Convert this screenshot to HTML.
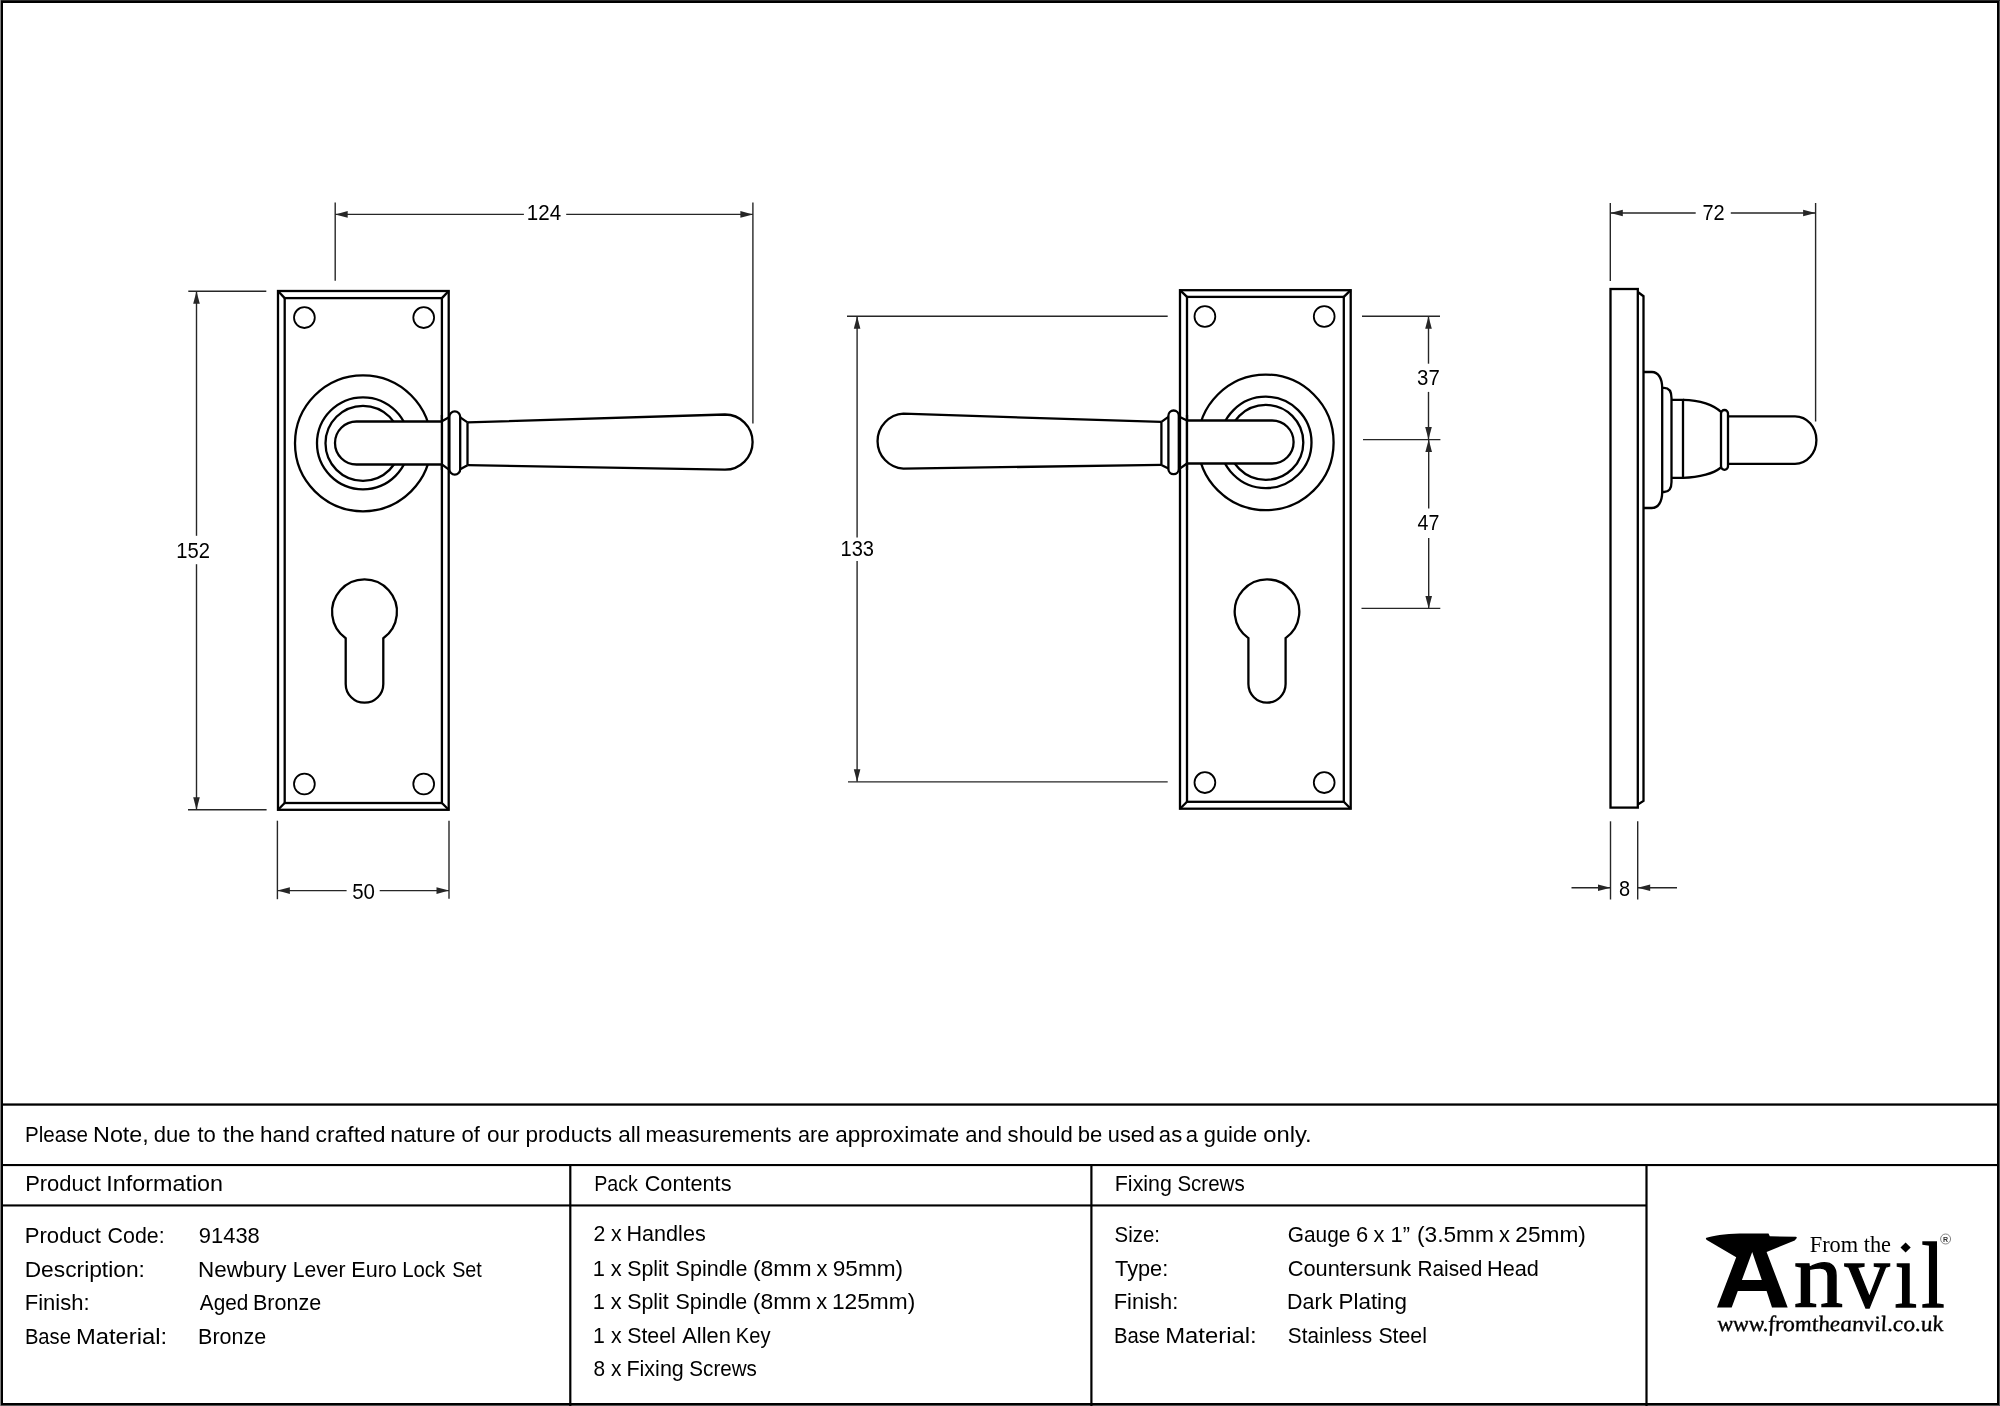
<!DOCTYPE html>
<html><head><meta charset="utf-8"><title>Newbury Lever Euro Lock Set</title><style>html,body{margin:0;padding:0;background:#fff;width:2000px;height:1406px;overflow:hidden}body{position:relative}</style></head><body>
<svg width="2000" height="1406" viewBox="0 0 2000 1406" style="position:absolute;left:0;top:0;will-change:transform">
<rect x="0" y="0" width="2000" height="1406" fill="#555"/>
<rect x="0" y="0" width="2000" height="1" fill="#2b2b2b"/>
<rect x="0" y="0" width="1" height="1406" fill="#808080"/>
<rect x="1" y="1" width="1998" height="1404" fill="#000"/>
<rect x="3" y="3" width="1994" height="1400" fill="#fff"/>
<rect x="3" y="1103.4" width="1994" height="2.3" fill="#000"/>
<rect x="3" y="1164" width="1994" height="2.1" fill="#000"/>
<rect x="3" y="1204.4" width="1643.4" height="2.1" fill="#000"/>
<rect x="569.2" y="1164" width="2.2" height="1239" fill="#000"/>
<rect x="1090.3" y="1164" width="2.2" height="1239" fill="#000"/>
<rect x="1645.4" y="1164" width="2.2" height="1239" fill="#000"/>
<rect x="278" y="291" width="170.70" height="518.80" fill="none" stroke="#000" stroke-width="2.3"/>
<rect x="284.7" y="298.1" width="157.20" height="504.90" fill="none" stroke="#000" stroke-width="2.3"/>
<line x1="278" y1="291" x2="284.7" y2="298.1" stroke="#000" stroke-width="2.3"/>
<line x1="448.7" y1="291" x2="441.9" y2="298.1" stroke="#000" stroke-width="2.3"/>
<line x1="278" y1="809.8" x2="284.7" y2="803" stroke="#000" stroke-width="2.3"/>
<line x1="448.7" y1="809.8" x2="441.9" y2="803" stroke="#000" stroke-width="2.3"/>
<circle cx="304.4" cy="317.6" r="10.4" fill="none" stroke="#000" stroke-width="1.8"/>
<circle cx="423.7" cy="317.6" r="10.4" fill="none" stroke="#000" stroke-width="1.8"/>
<circle cx="304.4" cy="784" r="10.4" fill="none" stroke="#000" stroke-width="1.8"/>
<circle cx="423.7" cy="784" r="10.4" fill="none" stroke="#000" stroke-width="1.8"/>
<circle cx="363" cy="443.3" r="68" fill="none" stroke="#000" stroke-width="2.3"/>
<circle cx="363" cy="443.3" r="46" fill="none" stroke="#000" stroke-width="2.3"/>
<circle cx="363" cy="443.3" r="37.5" fill="none" stroke="#000" stroke-width="2.3"/>
<path d="M345.70,638.30 A32.45,32.45 0 1 1 383.30,638.30 L383.30,683.90 A18.8,18.8 0 0 1 345.70,683.90 Z" fill="none" stroke="#000" stroke-width="2.3"/>
<path d="M441.9,421.5 L356.5,421.5 A21.5,21.5 0 0 0 356.5,464.5 L441.9,464.5" fill="#fff" stroke="#000" stroke-width="2.3"/>
<line x1="441.9" y1="415" x2="441.9" y2="470" stroke="#000" stroke-width="2.3"/>
<path d="M441.9,421.3 L448.6,417.4 M441.9,464.3 L448.6,469.3 M460.2,417.4 L467.5,422.4 M460.2,469.3 L467.5,465.2 M467.5,422.4 L467.5,465.2" fill="none" stroke="#000" stroke-width="2.3"/>
<rect x="449.4" y="411.4" width="10.8" height="63.2" rx="5.4" ry="5.4" fill="#fff" stroke="#000" stroke-width="2.3"/>
<path d="M467.5,422.4 L725,414.5 A27.6,27.6 0 0 1 725,469.7 L467.5,465.2" fill="none" stroke="#000" stroke-width="2.3"/>
<line x1="335.2" y1="202.4" x2="335.2" y2="280.8" stroke="#262626" stroke-width="1.4"/>
<line x1="752.9" y1="202.4" x2="752.9" y2="423.4" stroke="#262626" stroke-width="1.4"/>
<line x1="335.2" y1="214.4" x2="523.9" y2="214.4" stroke="#262626" stroke-width="1.4"/>
<line x1="566.2" y1="214.4" x2="752.9" y2="214.4" stroke="#262626" stroke-width="1.4"/>
<polygon points="335.20,214.40 347.70,211.10 347.70,217.70" fill="#262626"/>
<polygon points="752.90,214.40 740.40,217.70 740.40,211.10" fill="#262626"/>
<text transform="translate(526.86,219.50) scale(0.9269,1.0)" font-family='"Liberation Sans", sans-serif' font-size="22.2" fill="#000">124</text>
<line x1="188.3" y1="291.3" x2="266.3" y2="291.3" stroke="#262626" stroke-width="1.4"/>
<line x1="188.0" y1="809.8" x2="266.6" y2="809.8" stroke="#262626" stroke-width="1.4"/>
<line x1="196.5" y1="291.3" x2="196.5" y2="535.8" stroke="#262626" stroke-width="1.4"/>
<line x1="196.5" y1="564.2" x2="196.5" y2="809.8" stroke="#262626" stroke-width="1.4"/>
<polygon points="196.50,291.30 199.80,303.80 193.20,303.80" fill="#262626"/>
<polygon points="196.50,809.80 193.20,797.30 199.80,797.30" fill="#262626"/>
<text transform="translate(176.19,557.60) scale(0.9097,1.0)" font-family='"Liberation Sans", sans-serif' font-size="22.2" fill="#000">152</text>
<line x1="277.4" y1="820.7" x2="277.4" y2="899.2" stroke="#262626" stroke-width="1.4"/>
<line x1="449.0" y1="820.7" x2="449.0" y2="898.7" stroke="#262626" stroke-width="1.4"/>
<line x1="277.4" y1="890.6" x2="346.6" y2="890.6" stroke="#262626" stroke-width="1.4"/>
<line x1="379.7" y1="890.6" x2="449.0" y2="890.6" stroke="#262626" stroke-width="1.4"/>
<polygon points="277.40,890.60 289.90,887.30 289.90,893.90" fill="#262626"/>
<polygon points="449.00,890.60 436.50,893.90 436.50,887.30" fill="#262626"/>
<text transform="translate(352.18,898.70) scale(0.9227,1.0)" font-family='"Liberation Sans", sans-serif' font-size="22.2" fill="#000">50</text>
<rect x="1180" y="290.2" width="170.70" height="518.50" fill="none" stroke="#000" stroke-width="2.3"/>
<rect x="1187" y="296.9" width="156.80" height="504.90" fill="none" stroke="#000" stroke-width="2.3"/>
<line x1="1180" y1="290.2" x2="1187" y2="296.9" stroke="#000" stroke-width="2.3"/>
<line x1="1350.7" y1="290.2" x2="1343.8" y2="296.9" stroke="#000" stroke-width="2.3"/>
<line x1="1180" y1="808.7" x2="1187" y2="801.8" stroke="#000" stroke-width="2.3"/>
<line x1="1350.7" y1="808.7" x2="1343.8" y2="801.8" stroke="#000" stroke-width="2.3"/>
<circle cx="1204.9" cy="316.5" r="10.4" fill="none" stroke="#000" stroke-width="1.8"/>
<circle cx="1324.2" cy="316.5" r="10.4" fill="none" stroke="#000" stroke-width="1.8"/>
<circle cx="1204.9" cy="782.6" r="10.4" fill="none" stroke="#000" stroke-width="1.8"/>
<circle cx="1324.2" cy="782.6" r="10.4" fill="none" stroke="#000" stroke-width="1.8"/>
<circle cx="1265.8" cy="442.4" r="67.8" fill="none" stroke="#000" stroke-width="2.3"/>
<circle cx="1265.8" cy="442.4" r="45.7" fill="none" stroke="#000" stroke-width="2.3"/>
<circle cx="1265.8" cy="442.4" r="37.5" fill="none" stroke="#000" stroke-width="2.3"/>
<path d="M1248.40,638.11 A32.3,32.3 0 1 1 1285.60,638.11 L1285.60,684.10 A18.6,18.6 0 0 1 1248.40,684.10 Z" fill="none" stroke="#000" stroke-width="2.3"/>
<path d="M1187,420.5 L1272.1,420.5 A21.5,21.5 0 0 1 1272.1,463.5 L1187,463.5" fill="#fff" stroke="#000" stroke-width="2.3"/>
<line x1="1187" y1="415" x2="1187" y2="470" stroke="#000" stroke-width="2.3"/>
<path d="M1187,420.6 L1179.8,416.9 M1187,463.5 L1179.8,468.6 M1168.4,416.9 L1161.4,421.9 M1168.4,468.6 L1161.4,464.9 M1161.4,421.9 L1161.4,464.9" fill="none" stroke="#000" stroke-width="2.3"/>
<rect x="1168.4" y="410.5" width="10.4" height="63.7" rx="5.2" ry="5.2" fill="#fff" stroke="#000" stroke-width="2.3"/>
<path d="M1161.4,421.9 L903.4,413.7 A27.5,27.5 0 0 0 903.4,468.6 L1161.4,464.9" fill="none" stroke="#000" stroke-width="2.3"/>
<line x1="847" y1="316.3" x2="1167.7" y2="316.3" stroke="#262626" stroke-width="1.4"/>
<line x1="848" y1="781.85" x2="1167.7" y2="781.85" stroke="#262626" stroke-width="1.4"/>
<line x1="857.1" y1="316.3" x2="857.1" y2="537.5" stroke="#262626" stroke-width="1.4"/>
<line x1="857.1" y1="561" x2="857.1" y2="781.85" stroke="#262626" stroke-width="1.4"/>
<polygon points="857.10,316.30 860.40,328.80 853.80,328.80" fill="#262626"/>
<polygon points="857.10,781.85 853.80,769.35 860.40,769.35" fill="#262626"/>
<text transform="translate(840.50,556.30) scale(0.9038,1.0)" font-family='"Liberation Sans", sans-serif' font-size="22.2" fill="#000">133</text>
<line x1="1362" y1="316.3" x2="1440" y2="316.3" stroke="#262626" stroke-width="1.4"/>
<line x1="1363" y1="439.6" x2="1440.4" y2="439.6" stroke="#262626" stroke-width="1.4"/>
<line x1="1361.5" y1="608.4" x2="1440.3" y2="608.4" stroke="#262626" stroke-width="1.4"/>
<line x1="1428.5" y1="316.3" x2="1428.5" y2="363.7" stroke="#262626" stroke-width="1.4"/>
<line x1="1428.5" y1="391.9" x2="1428.5" y2="439.6" stroke="#262626" stroke-width="1.4"/>
<polygon points="1428.50,316.30 1431.80,328.80 1425.20,328.80" fill="#262626"/>
<polygon points="1428.50,439.60 1425.20,427.10 1431.80,427.10" fill="#262626"/>
<line x1="1428.7" y1="439.6" x2="1428.7" y2="508.5" stroke="#262626" stroke-width="1.4"/>
<line x1="1428.7" y1="538" x2="1428.7" y2="608.4" stroke="#262626" stroke-width="1.4"/>
<polygon points="1428.70,439.60 1432.00,452.10 1425.40,452.10" fill="#262626"/>
<polygon points="1428.70,608.40 1425.40,595.90 1432.00,595.90" fill="#262626"/>
<text transform="translate(1417.08,384.80) scale(0.9186,1.0)" font-family='"Liberation Sans", sans-serif' font-size="22.2" fill="#000">37</text>
<text transform="translate(1417.51,530.30) scale(0.8836,1.0)" font-family='"Liberation Sans", sans-serif' font-size="22.2" fill="#000">47</text>
<rect x="1610.5" y="289" width="27.3" height="518.6" fill="none" stroke="#000" stroke-width="2.3"/>
<path d="M1637.8,292 L1643.5,296.2 L1643.5,800.9 L1637.8,804.5" fill="none" stroke="#000" stroke-width="2.3"/>
<path d="M1644,372 H1652 C1658,372 1662.2,378 1662.2,388 V492 C1662.2,502 1658,508 1652,508 H1644" fill="none" stroke="#000" stroke-width="2.3"/>
<path d="M1662.2,387.9 H1664 C1668.5,387.9 1671.5,391 1671.5,398 V482 C1671.5,489 1668.5,492 1664,492 H1662.2" fill="none" stroke="#000" stroke-width="2.3"/>
<path d="M1671.5,399.8 H1683 V477.8 H1671.5" fill="none" stroke="#000" stroke-width="2.3"/>
<path d="M1683,399.8 C1700,400 1714,405 1721,412 M1683,477.8 C1700,477.8 1714,473 1721,467.5" fill="none" stroke="#000" stroke-width="2.3"/>
<rect x="1721" y="410" width="7" height="59.8" rx="3.5" ry="3.5" fill="#fff" stroke="#000" stroke-width="2.3"/>
<path d="M1728,416.3 H1795 C1807,416.3 1816.4,427 1816.4,440 C1816.4,453 1807,463.8 1795,463.8 H1728" fill="none" stroke="#000" stroke-width="2.3"/>
<line x1="1610.3" y1="203" x2="1610.3" y2="281" stroke="#262626" stroke-width="1.4"/>
<line x1="1815.6" y1="203" x2="1815.6" y2="421.5" stroke="#262626" stroke-width="1.4"/>
<line x1="1610.3" y1="213" x2="1695.7" y2="213" stroke="#262626" stroke-width="1.4"/>
<line x1="1730.8" y1="213" x2="1815.6" y2="213" stroke="#262626" stroke-width="1.4"/>
<polygon points="1610.30,213.00 1622.80,209.70 1622.80,216.30" fill="#262626"/>
<polygon points="1815.60,213.00 1803.10,216.30 1803.10,209.70" fill="#262626"/>
<text transform="translate(1702.50,219.90) scale(0.9009,1.0)" font-family='"Liberation Sans", sans-serif' font-size="22.2" fill="#000">72</text>
<line x1="1610.5" y1="821.3" x2="1610.5" y2="899.5" stroke="#262626" stroke-width="1.4"/>
<line x1="1637.7" y1="821.3" x2="1637.7" y2="899.5" stroke="#262626" stroke-width="1.4"/>
<line x1="1571.5" y1="887.7" x2="1610.5" y2="887.7" stroke="#262626" stroke-width="1.4"/>
<line x1="1637.7" y1="887.7" x2="1677" y2="887.7" stroke="#262626" stroke-width="1.4"/>
<polygon points="1610.50,887.70 1598.00,891.00 1598.00,884.40" fill="#262626"/>
<polygon points="1637.70,887.70 1650.20,884.40 1650.20,891.00" fill="#262626"/>
<text transform="translate(1618.90,895.50) scale(0.9009,1.0)" font-family='"Liberation Sans", sans-serif' font-size="22.2" fill="#000">8</text>
<text transform="translate(25.05,1142.20) scale(0.9200,1.0)" font-family='"Liberation Sans", sans-serif' font-size="22.4" fill="#000">Please</text>
<text transform="translate(93.06,1142.20) scale(1.0419,1.0)" font-family='"Liberation Sans", sans-serif' font-size="22.4" fill="#000">Note,</text>
<text transform="translate(153.69,1142.20) scale(0.9839,1.0)" font-family='"Liberation Sans", sans-serif' font-size="22.4" fill="#000">due</text>
<text transform="translate(197.46,1142.20) scale(0.9862,1.0)" font-family='"Liberation Sans", sans-serif' font-size="22.4" fill="#000">to</text>
<text transform="translate(223.07,1142.20) scale(1.0152,1.0)" font-family='"Liberation Sans", sans-serif' font-size="22.4" fill="#000">the</text>
<text transform="translate(259.92,1142.20) scale(1.0041,1.0)" font-family='"Liberation Sans", sans-serif' font-size="22.4" fill="#000">hand</text>
<text transform="translate(315.43,1142.20) scale(1.0238,1.0)" font-family='"Liberation Sans", sans-serif' font-size="22.4" fill="#000">crafted</text>
<text transform="translate(390.34,1142.20) scale(1.0285,1.0)" font-family='"Liberation Sans", sans-serif' font-size="22.4" fill="#000">nature</text>
<text transform="translate(461.59,1142.20) scale(0.9862,1.0)" font-family='"Liberation Sans", sans-serif' font-size="22.4" fill="#000">of</text>
<text transform="translate(487.00,1142.20) scale(1.0086,1.0)" font-family='"Liberation Sans", sans-serif' font-size="22.4" fill="#000">our</text>
<text transform="translate(525.57,1142.20) scale(1.0062,1.0)" font-family='"Liberation Sans", sans-serif' font-size="22.4" fill="#000">products</text>
<text transform="translate(618.15,1142.20) scale(1.0050,1.0)" font-family='"Liberation Sans", sans-serif' font-size="22.4" fill="#000">all</text>
<text transform="translate(645.61,1142.20) scale(0.9862,1.0)" font-family='"Liberation Sans", sans-serif' font-size="22.4" fill="#000">measurements</text>
<text transform="translate(797.94,1142.20) scale(0.9670,1.0)" font-family='"Liberation Sans", sans-serif' font-size="22.4" fill="#000">are</text>
<text transform="translate(835.21,1142.20) scale(1.0067,1.0)" font-family='"Liberation Sans", sans-serif' font-size="22.4" fill="#000">approximate</text>
<text transform="translate(965.18,1142.20) scale(0.9838,1.0)" font-family='"Liberation Sans", sans-serif' font-size="22.4" fill="#000">and</text>
<text transform="translate(1007.61,1142.20) scale(0.9883,1.0)" font-family='"Liberation Sans", sans-serif' font-size="22.4" fill="#000">should</text>
<text transform="translate(1077.83,1142.20) scale(0.9862,1.0)" font-family='"Liberation Sans", sans-serif' font-size="22.4" fill="#000">be</text>
<text transform="translate(1107.83,1142.20) scale(0.9702,1.0)" font-family='"Liberation Sans", sans-serif' font-size="22.4" fill="#000">used</text>
<text transform="translate(1158.86,1142.20) scale(0.9862,1.0)" font-family='"Liberation Sans", sans-serif' font-size="22.4" fill="#000">as</text>
<text transform="translate(1185.65,1142.20) scale(0.9862,1.0)" font-family='"Liberation Sans", sans-serif' font-size="22.4" fill="#000">a</text>
<text transform="translate(1203.75,1142.20) scale(0.9772,1.0)" font-family='"Liberation Sans", sans-serif' font-size="22.4" fill="#000">guide</text>
<text transform="translate(1263.17,1142.20) scale(1.0634,1.0)" font-family='"Liberation Sans", sans-serif' font-size="22.4" fill="#000">only.</text>
<text transform="translate(25.14,1191.10) scale(0.9806,1.0)" font-family='"Liberation Sans", sans-serif' font-size="22.4" fill="#000">Product</text>
<text transform="translate(106.37,1191.10) scale(1.0424,1.0)" font-family='"Liberation Sans", sans-serif' font-size="22.4" fill="#000">Information</text>
<text transform="translate(594.17,1190.90) scale(0.8791,1.0)" font-family='"Liberation Sans", sans-serif' font-size="22.4" fill="#000">Pack</text>
<text transform="translate(644.67,1190.90) scale(0.9685,1.0)" font-family='"Liberation Sans", sans-serif' font-size="22.4" fill="#000">Contents</text>
<text transform="translate(1114.79,1190.50) scale(0.9564,1.0)" font-family='"Liberation Sans", sans-serif' font-size="22.4" fill="#000">Fixing</text>
<text transform="translate(1177.40,1190.50) scale(0.9163,1.0)" font-family='"Liberation Sans", sans-serif' font-size="22.4" fill="#000">Screws</text>
<text transform="translate(24.73,1242.50) scale(0.9876,1.0)" font-family='"Liberation Sans", sans-serif' font-size="22.4" fill="#000">Product</text>
<text transform="translate(107.58,1242.50) scale(0.9539,1.0)" font-family='"Liberation Sans", sans-serif' font-size="22.4" fill="#000">Code:</text>
<text transform="translate(24.68,1276.80) scale(1.0170,1.0)" font-family='"Liberation Sans", sans-serif' font-size="22.4" fill="#000">Description:</text>
<text transform="translate(24.74,1310.40) scale(0.9829,1.0)" font-family='"Liberation Sans", sans-serif' font-size="22.4" fill="#000">Finish:</text>
<text transform="translate(24.88,1343.90) scale(0.9013,1.0)" font-family='"Liberation Sans", sans-serif' font-size="22.4" fill="#000">Base</text>
<text transform="translate(75.94,1343.90) scale(1.0607,1.0)" font-family='"Liberation Sans", sans-serif' font-size="22.4" fill="#000">Material:</text>
<text transform="translate(198.81,1242.50) scale(0.9790,1.0)" font-family='"Liberation Sans", sans-serif' font-size="22.4" fill="#000">91438</text>
<text transform="translate(198.01,1276.80) scale(1.0015,1.0)" font-family='"Liberation Sans", sans-serif' font-size="22.4" fill="#000">Newbury</text>
<text transform="translate(292.65,1276.80) scale(0.9433,1.0)" font-family='"Liberation Sans", sans-serif' font-size="22.4" fill="#000">Lever</text>
<text transform="translate(351.26,1276.80) scale(0.9643,1.0)" font-family='"Liberation Sans", sans-serif' font-size="22.4" fill="#000">Euro</text>
<text transform="translate(402.17,1276.80) scale(0.9112,1.0)" font-family='"Liberation Sans", sans-serif' font-size="22.4" fill="#000">Lock</text>
<text transform="translate(452.18,1276.80) scale(0.8815,1.0)" font-family='"Liberation Sans", sans-serif' font-size="22.4" fill="#000">Set</text>
<text transform="translate(199.80,1310.40) scale(0.9273,1.0)" font-family='"Liberation Sans", sans-serif' font-size="22.4" fill="#000">Aged</text>
<text transform="translate(253.02,1310.40) scale(0.9612,1.0)" font-family='"Liberation Sans", sans-serif' font-size="22.4" fill="#000">Bronze</text>
<text transform="translate(198.08,1343.90) scale(0.9604,1.0)" font-family='"Liberation Sans", sans-serif' font-size="22.4" fill="#000">Bronze</text>
<text transform="translate(593.44,1241.30) scale(0.9496,1.0)" font-family='"Liberation Sans", sans-serif' font-size="22.4" fill="#000">2</text>
<text transform="translate(610.96,1241.30) scale(0.9496,1.0)" font-family='"Liberation Sans", sans-serif' font-size="22.4" fill="#000">x</text>
<text transform="translate(626.48,1241.30) scale(0.9643,1.0)" font-family='"Liberation Sans", sans-serif' font-size="22.4" fill="#000">Handles</text>
<text transform="translate(592.86,1275.50) scale(0.9775,1.0)" font-family='"Liberation Sans", sans-serif' font-size="22.4" fill="#000">1</text>
<text transform="translate(610.75,1275.50) scale(0.9775,1.0)" font-family='"Liberation Sans", sans-serif' font-size="22.4" fill="#000">x</text>
<text transform="translate(627.16,1275.50) scale(0.9553,1.0)" font-family='"Liberation Sans", sans-serif' font-size="22.4" fill="#000">Split</text>
<text transform="translate(675.58,1275.50) scale(0.9610,1.0)" font-family='"Liberation Sans", sans-serif' font-size="22.4" fill="#000">Spindle</text>
<text transform="translate(752.91,1275.50) scale(1.0240,1.0)" font-family='"Liberation Sans", sans-serif' font-size="22.4" fill="#000">(8mm</text>
<text transform="translate(816.45,1275.50) scale(0.9775,1.0)" font-family='"Liberation Sans", sans-serif' font-size="22.4" fill="#000">x</text>
<text transform="translate(832.80,1275.50) scale(1.0099,1.0)" font-family='"Liberation Sans", sans-serif' font-size="22.4" fill="#000">95mm)</text>
<text transform="translate(592.86,1308.80) scale(0.9770,1.0)" font-family='"Liberation Sans", sans-serif' font-size="22.4" fill="#000">1</text>
<text transform="translate(610.74,1308.80) scale(0.9770,1.0)" font-family='"Liberation Sans", sans-serif' font-size="22.4" fill="#000">x</text>
<text transform="translate(627.14,1308.80) scale(0.9545,1.0)" font-family='"Liberation Sans", sans-serif' font-size="22.4" fill="#000">Split</text>
<text transform="translate(675.52,1308.80) scale(0.9603,1.0)" font-family='"Liberation Sans", sans-serif' font-size="22.4" fill="#000">Spindle</text>
<text transform="translate(752.79,1308.80) scale(1.0232,1.0)" font-family='"Liberation Sans", sans-serif' font-size="22.4" fill="#000">(8mm</text>
<text transform="translate(816.28,1308.80) scale(0.9770,1.0)" font-family='"Liberation Sans", sans-serif' font-size="22.4" fill="#000">x</text>
<text transform="translate(831.93,1308.80) scale(1.0138,1.0)" font-family='"Liberation Sans", sans-serif' font-size="22.4" fill="#000">125mm)</text>
<text transform="translate(592.90,1342.50) scale(0.9507,1.0)" font-family='"Liberation Sans", sans-serif' font-size="22.4" fill="#000">1</text>
<text transform="translate(610.88,1342.50) scale(0.9507,1.0)" font-family='"Liberation Sans", sans-serif' font-size="22.4" fill="#000">x</text>
<text transform="translate(627.13,1342.50) scale(0.9549,1.0)" font-family='"Liberation Sans", sans-serif' font-size="22.4" fill="#000">Steel</text>
<text transform="translate(682.27,1342.50) scale(0.9778,1.0)" font-family='"Liberation Sans", sans-serif' font-size="22.4" fill="#000">Allen</text>
<text transform="translate(735.84,1342.50) scale(0.8970,1.0)" font-family='"Liberation Sans", sans-serif' font-size="22.4" fill="#000">Key</text>
<text transform="translate(593.56,1376.30) scale(0.9314,1.0)" font-family='"Liberation Sans", sans-serif' font-size="22.4" fill="#000">8</text>
<text transform="translate(611.00,1376.30) scale(0.9314,1.0)" font-family='"Liberation Sans", sans-serif' font-size="22.4" fill="#000">x</text>
<text transform="translate(626.39,1376.30) scale(0.9615,1.0)" font-family='"Liberation Sans", sans-serif' font-size="22.4" fill="#000">Fixing</text>
<text transform="translate(689.34,1376.30) scale(0.9212,1.0)" font-family='"Liberation Sans", sans-serif' font-size="22.4" fill="#000">Screws</text>
<text transform="translate(1114.58,1241.80) scale(0.9100,1.0)" font-family='"Liberation Sans", sans-serif' font-size="22.4" fill="#000">Size:</text>
<text transform="translate(1115.06,1275.50) scale(0.9712,1.0)" font-family='"Liberation Sans", sans-serif' font-size="22.4" fill="#000">Type:</text>
<text transform="translate(1113.75,1309.30) scale(0.9781,1.0)" font-family='"Liberation Sans", sans-serif' font-size="22.4" fill="#000">Finish:</text>
<text transform="translate(1113.88,1342.50) scale(0.9059,1.0)" font-family='"Liberation Sans", sans-serif' font-size="22.4" fill="#000">Base</text>
<text transform="translate(1165.19,1342.50) scale(1.0660,1.0)" font-family='"Liberation Sans", sans-serif' font-size="22.4" fill="#000">Material:</text>
<text transform="translate(1287.76,1241.80) scale(0.9309,1.0)" font-family='"Liberation Sans", sans-serif' font-size="22.4" fill="#000">Gauge</text>
<text transform="translate(1356.01,1241.80) scale(0.9775,1.0)" font-family='"Liberation Sans", sans-serif' font-size="22.4" fill="#000">6</text>
<text transform="translate(1373.56,1241.80) scale(0.9775,1.0)" font-family='"Liberation Sans", sans-serif' font-size="22.4" fill="#000">x</text>
<text transform="translate(1390.58,1241.80) scale(0.9775,1.0)" font-family='"Liberation Sans", sans-serif' font-size="22.4" fill="#000">1”</text>
<text transform="translate(1416.98,1241.80) scale(1.0147,1.0)" font-family='"Liberation Sans", sans-serif' font-size="22.4" fill="#000">(3.5mm</text>
<text transform="translate(1499.00,1241.80) scale(0.9775,1.0)" font-family='"Liberation Sans", sans-serif' font-size="22.4" fill="#000">x</text>
<text transform="translate(1515.26,1241.80) scale(1.0135,1.0)" font-family='"Liberation Sans", sans-serif' font-size="22.4" fill="#000">25mm)</text>
<text transform="translate(1287.71,1275.50) scale(0.9731,1.0)" font-family='"Liberation Sans", sans-serif' font-size="22.4" fill="#000">Countersunk</text>
<text transform="translate(1417.48,1275.50) scale(0.9298,1.0)" font-family='"Liberation Sans", sans-serif' font-size="22.4" fill="#000">Raised</text>
<text transform="translate(1487.02,1275.50) scale(0.9693,1.0)" font-family='"Liberation Sans", sans-serif' font-size="22.4" fill="#000">Head</text>
<text transform="translate(1287.08,1309.30) scale(0.9592,1.0)" font-family='"Liberation Sans", sans-serif' font-size="22.4" fill="#000">Dark</text>
<text transform="translate(1338.54,1309.30) scale(0.9998,1.0)" font-family='"Liberation Sans", sans-serif' font-size="22.4" fill="#000">Plating</text>
<text transform="translate(1287.87,1342.50) scale(0.9275,1.0)" font-family='"Liberation Sans", sans-serif' font-size="22.4" fill="#000">Stainless</text>
<text transform="translate(1378.38,1342.50) scale(0.9519,1.0)" font-family='"Liberation Sans", sans-serif' font-size="22.4" fill="#000">Steel</text>
<path d="M1705.8,1238.1 C1712,1236 1725,1234 1739.7,1233.6 L1768.5,1233.6 L1769.8,1236.2 L1796,1236.8 L1797,1237.8 L1794.7,1240.4 L1766.6,1251.9 L1787.7,1307.6 L1772,1307.6 L1766.6,1290.9 L1737.8,1290.9 L1731.7,1307.6 L1717,1307.6 L1736.2,1257.3 L1706.4,1239.7 Z M1752.2,1251.9 L1741.9,1280.1 L1761.8,1280.1 Z" fill="#000" fill-rule="evenodd"/>
<text transform="translate(1793.83,1307.10) scale(1.0260,0.97)" font-family='"Liberation Serif", serif' font-size="96" fill="#000" stroke="#000" stroke-width="1.4" stroke-linejoin="miter">n</text>
<text transform="translate(1844.70,1307.10) scale(0.9354,0.97)" font-family='"Liberation Serif", serif' font-size="96" fill="#000" stroke="#000" stroke-width="1.4" stroke-linejoin="miter">v</text>
<text transform="translate(1894.47,1307.10) scale(0.8464,0.97)" font-family='"Liberation Serif", serif' font-size="96" fill="#000" stroke="#000" stroke-width="1.4" stroke-linejoin="miter">ı</text>
<text transform="translate(1921.21,1307.10) scale(0.8811,0.97)" font-family='"Liberation Serif", serif' font-size="96" fill="#000" stroke="#000" stroke-width="1.4" stroke-linejoin="miter">l</text>
<polygon points="1905.6,1242.4 1910.7,1247.5 1905.6,1252.6 1900.5,1247.5" fill="#000"/>
<text transform="translate(1809.73,1251.80) scale(0.9846,1.0)" font-family='"Liberation Serif", serif' font-size="22.7" fill="#000">From the</text>
<circle cx="1945.6" cy="1239" r="5" fill="none" stroke="#666" stroke-width="0.8"/>
<text x="1945.6" y="1242" font-family='"Liberation Sans", sans-serif' font-size="7" font-weight="bold" text-anchor="middle" fill="#333">R</text>
<text transform="translate(1718.22,1330.80) scale(1.0634,1.0) skewX(7)" font-family='"Liberation Serif", serif' font-size="22" font-style="italic" fill="#000" stroke="#000" stroke-width="0.35">www.fromtheanvil.co.uk</text>
</svg>
</body></html>
